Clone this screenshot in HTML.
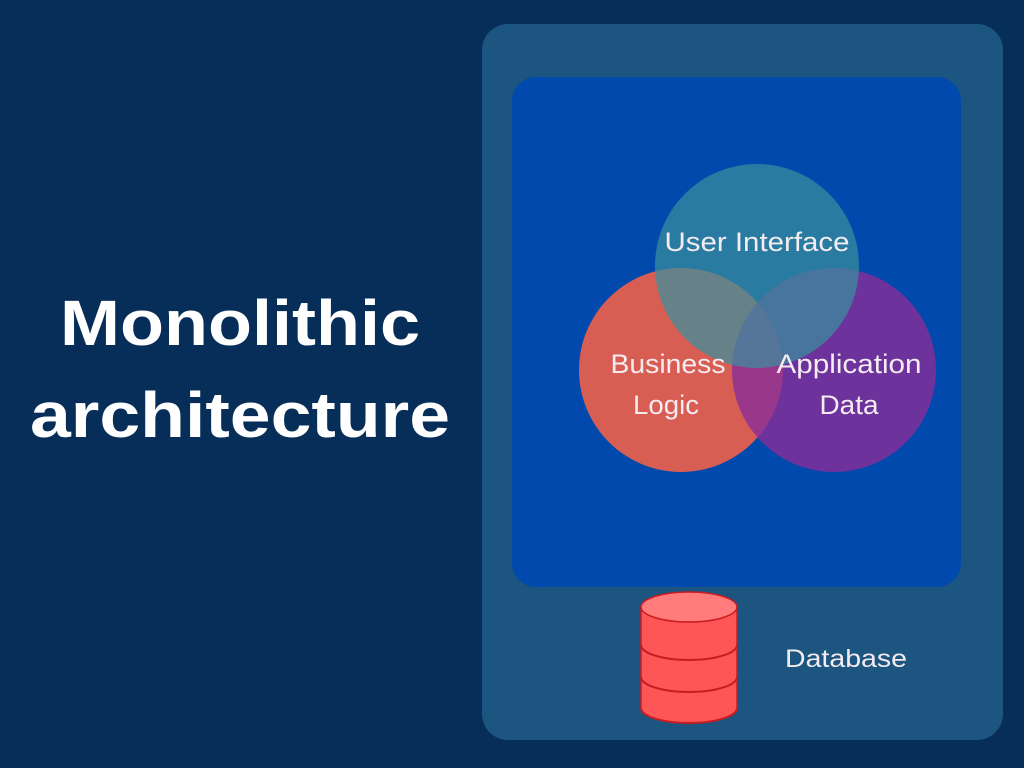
<!DOCTYPE html>
<html><head><style>
html,body{margin:0;padding:0;width:1024px;height:768px;overflow:hidden;background:#062e58;}
</style></head><body>
<svg width="1024" height="768" xmlns="http://www.w3.org/2000/svg" style="position:absolute;left:0;top:0">
<rect width="1024" height="768" fill="#062e58"/>
<text x="240" y="345" text-anchor="middle" font-family="Liberation Sans, sans-serif" font-weight="bold" font-size="64" fill="#fff" textLength="360" lengthAdjust="spacingAndGlyphs">Monolithic</text>
<text x="240" y="437" text-anchor="middle" font-family="Liberation Sans, sans-serif" font-weight="bold" font-size="64" fill="#fff" textLength="420" lengthAdjust="spacingAndGlyphs">architecture</text>
<rect x="482" y="24" width="521" height="716" rx="26" fill="#1b5580"/>
<rect x="512" y="77" width="449" height="510" rx="24" fill="#0149ad"/>
<circle cx="681" cy="370" r="102" fill="#f0604a" opacity="0.9"/>
<circle cx="834" cy="370" r="102" fill="#8a2d98" opacity="0.8"/>
<circle cx="757" cy="266" r="102" fill="#3a8f9c" opacity="0.72"/>
<g font-family="Liberation Sans, sans-serif" font-size="27" fill="#f4ecf0" text-anchor="middle">
<text x="757" y="251" textLength="185" lengthAdjust="spacingAndGlyphs">User Interface</text>
<text x="668" y="373" textLength="115" lengthAdjust="spacingAndGlyphs">Business</text>
<text x="666" y="414" textLength="66" lengthAdjust="spacingAndGlyphs">Logic</text>
<text x="849" y="373" textLength="145" lengthAdjust="spacingAndGlyphs">Application</text>
<text x="849" y="414" textLength="59" lengthAdjust="spacingAndGlyphs">Data</text>
<text x="846" y="667" font-size="25" textLength="122" lengthAdjust="spacingAndGlyphs">Database</text>
</g>
<g>
<path d="M641 607 V708 A48 15 0 0 0 737 708 V607 Z" fill="#fe5557"/>
<path d="M641 645 A48 15 0 0 0 737 645" fill="none" stroke="#c81c22" stroke-width="2"/>
<path d="M641 677 A48 15 0 0 0 737 677" fill="none" stroke="#c81c22" stroke-width="2"/>
<path d="M641 708 A48 15 0 0 0 737 708" fill="none" stroke="#c81c22" stroke-width="2"/>
<ellipse cx="689" cy="607" rx="48" ry="15" fill="#ff7b7c" stroke="#c81c22" stroke-width="1.5"/>
<path d="M641 607 V708 M737 607 V708" stroke="#c81c22" stroke-width="1.5"/>
</g>
</svg>
</body></html>
